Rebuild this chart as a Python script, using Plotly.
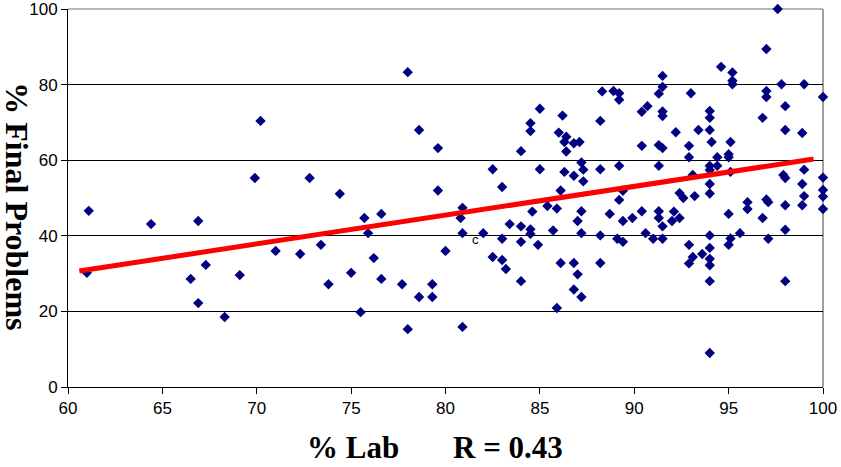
import plotly.graph_objects as go

# % Lab scores (x) and % Final Problems scores (y)
lab = [
    61.1, 61.0, 64.4, 66.5, 66.9, 66.9, 67.3, 68.3, 69.1, 69.9,
    70.2, 71.0, 72.3, 72.8, 73.4, 73.8, 74.4, 75.0, 75.5, 75.7,
    75.9, 76.2, 76.6, 76.6, 77.7, 78.0, 78.0, 78.6, 78.6, 79.3,
    79.3, 79.6, 79.6,
    80.0, 80.9, 80.8, 80.9, 80.9, 82.0, 82.5, 82.5, 83.0, 83.0,
    83.0, 83.2, 83.4, 84.0, 84.0, 84.0, 84.0, 84.5, 84.5, 84.5,
    84.5, 84.6, 84.9, 85.0, 85.0,
    85.4, 85.7, 85.9, 85.9, 86.0, 86.1, 86.1, 86.2, 86.4, 86.3,
    86.4, 86.8, 86.3, 86.8, 86.8, 86.8, 87.1, 87.2, 87.3, 87.3,
    87.2, 87.0, 87.2, 87.0, 87.2, 88.2, 88.3, 88.2, 88.7, 88.2,
    88.2, 88.9, 89.2, 89.2, 89.2, 89.4, 89.2, 89.4, 89.1, 89.4,
    89.9,
    90.4, 90.7, 90.4, 90.4, 90.6, 91.0, 91.3, 91.5, 91.5, 91.5,
    91.5, 91.3, 91.5, 91.3, 91.3, 91.3, 91.5, 91.5, 92.1, 92.0,
    92.4, 92.2, 92.4, 92.6, 92.9, 93.0, 92.9, 92.9, 93.1, 92.9,
    93.4, 93.1, 93.2, 93.6, 94.0, 94.0, 94.0, 94.1, 94.4, 94.0,
    94.4, 94.0, 94.0, 94.0, 94.0, 94.0, 94.0, 94.0, 94.0, 94.0,
    94.6,
    95.2, 95.2, 95.2, 95.1, 95.0, 95.0, 95.1, 95.0, 95.1, 95.0,
    95.6, 96.0, 96.0, 96.8, 96.8, 97.0, 97.0, 97.0, 97.0, 97.1,
    97.1, 97.6, 97.8, 98.0, 98.0, 97.9, 98.0, 98.0, 98.0, 98.0,
    98.9, 99.0, 99.0, 98.9, 99.0, 98.9, 100.0, 100.0, 100.0, 100.0,
    100.0,
]
final = [
    46.6, 30.2, 43.1, 28.6, 43.9, 22.2, 32.3, 18.5, 29.6, 55.3,
    70.4, 36.0, 35.2, 55.3, 37.6, 27.2, 51.1, 30.2, 19.8, 44.7,
    40.7, 34.1, 45.8, 28.6, 27.2, 83.3, 15.3, 68.0, 23.8, 27.2,
    23.8, 63.2, 52.0,
    36.0, 47.4, 44.7, 40.7, 15.9, 40.7, 57.6, 34.4, 52.9, 39.2,
    33.6, 31.2, 43.1, 62.4, 42.5, 38.4, 28.0, 69.8, 67.7, 41.7,
    40.5, 46.4, 37.6, 73.6, 57.6,
    47.9, 41.4, 47.2, 20.9, 67.3, 52.0, 32.8, 71.8, 66.2, 64.8,
    62.3, 64.5, 56.9, 55.9, 32.8, 25.8, 64.8, 59.4, 57.5, 54.4,
    46.5, 43.9, 40.7, 29.8, 23.8, 70.4, 78.2, 57.6, 45.8, 40.1,
    32.8, 78.3, 77.7, 76.0, 58.5, 51.9, 49.5, 43.9, 39.2, 38.4,
    44.7,
    72.8, 74.3, 63.8, 46.5, 40.7, 39.2, 77.6, 79.4, 82.3, 72.9,
    71.7, 64.0, 63.2, 58.5, 46.5, 44.7, 42.5, 39.2, 46.4, 43.9,
    44.7, 67.4, 51.3, 50.0, 60.8, 77.7, 63.8, 37.6, 34.4, 32.7,
    68.0, 56.1, 50.5, 35.2, 73.0, 71.2, 68.0, 64.8, 60.8, 58.5,
    58.5, 57.4, 53.7, 51.2, 40.1, 36.8, 33.9, 32.2, 28.0, 9.0,
    84.7,
    83.2, 81.0, 80.1, 64.8, 61.6, 60.8, 56.9, 45.8, 39.3, 37.6,
    40.7, 48.9, 47.1, 71.2, 44.7, 89.4, 78.3, 76.7, 49.6, 48.9,
    39.2, 100.0, 80.1, 74.3, 68.0, 56.1, 55.3, 48.1, 41.6, 28.0,
    67.2, 80.1, 57.5, 53.7, 50.5, 48.1, 76.7, 55.4, 52.1, 50.4,
    47.1,
]

# linear trend line
trend_lab = [60.6, 99.5]
trend_final = [30.7, 60.3]

# stray label in the plot
stray_text = "c"
stray_lab = 81.6
stray_final = 39.0

x_ticks = [60, 65, 70, 75, 80, 85, 90, 95, 100]
y_ticks = [0, 20, 40, 60, 80, 100]

x_title = "% Lab"
r_text = "R = 0.43"
y_title = "% Final Problems"

fig = go.Figure()
fig.add_trace(go.Scatter(
    x=lab, y=final, mode="markers",
    marker=dict(symbol="diamond", size=8, color="#000080", line=dict(width=0)),
    cliponaxis=False, showlegend=False,
))
fig.add_trace(go.Scatter(
    x=trend_lab, y=trend_final, mode="lines",
    line=dict(color="#FF0000", width=5),
    cliponaxis=False, showlegend=False,
))

tick_font = dict(family="Liberation Sans, Arial, sans-serif", size=17, color="black")
title_font = dict(family="Liberation Serif, Times New Roman, serif", size=31, color="black")

fig.update_layout(
    width=841, height=467,
    margin=dict(l=68, r=18, t=9, b=80),
    paper_bgcolor="white", plot_bgcolor="rgba(0,0,0,0)",
    xaxis=dict(
        range=[60, 100], tickvals=x_ticks, ticks="outside", ticklen=6,
        tickcolor="black", showline=True, linecolor="black", linewidth=1,
        showgrid=False, zeroline=False, tickfont=tick_font,
        ticklabeloverflow="allow", automargin=False,
    ),
    yaxis=dict(
        range=[0, 100], tickvals=y_ticks, ticks="outside", ticklen=6,
        tickcolor="black", showline=True, linecolor="black", linewidth=1,
        showgrid=True, gridcolor="black", gridwidth=1, zeroline=False,
        tickfont=tick_font, ticklabeloverflow="allow", automargin=False,
    ),
    shapes=[
        dict(type="line", xref="paper", yref="paper", x0=0, x1=1, y0=1, y1=1,
             line=dict(color="#A0A0A0", width=1.5), layer="below"),
        dict(type="line", xref="paper", yref="paper", x0=1, x1=1, y0=0, y1=1,
             line=dict(color="#A0A0A0", width=2), layer="below"),
    ],
    annotations=[
        dict(text="<b>%s</b>" % x_title, xref="paper", yref="paper",
             x=0.377, y=-0.16, xanchor="center", yanchor="middle",
             showarrow=False, font=title_font),
        dict(text="<b>%s</b>" % r_text, xref="paper", yref="paper",
             x=0.583, y=-0.16, xanchor="center", yanchor="middle",
             showarrow=False, font=title_font),
        dict(text="<b>%s</b>" % y_title, xref="paper", yref="paper",
             x=-0.068, y=0.479, xanchor="center", yanchor="middle",
             textangle=90, showarrow=False,
             font=dict(family="Liberation Serif, Times New Roman, serif", size=32, color="black")),
        dict(text=stray_text, xref="x", yref="y", x=stray_lab, y=stray_final,
             showarrow=False,
             font=dict(family="Liberation Sans, Arial, sans-serif", size=13, color="black")),
    ],
)

fig.write_html("out.html", config={"displayModeBar": False},
               post_script="document.body.style.margin='0px';")
